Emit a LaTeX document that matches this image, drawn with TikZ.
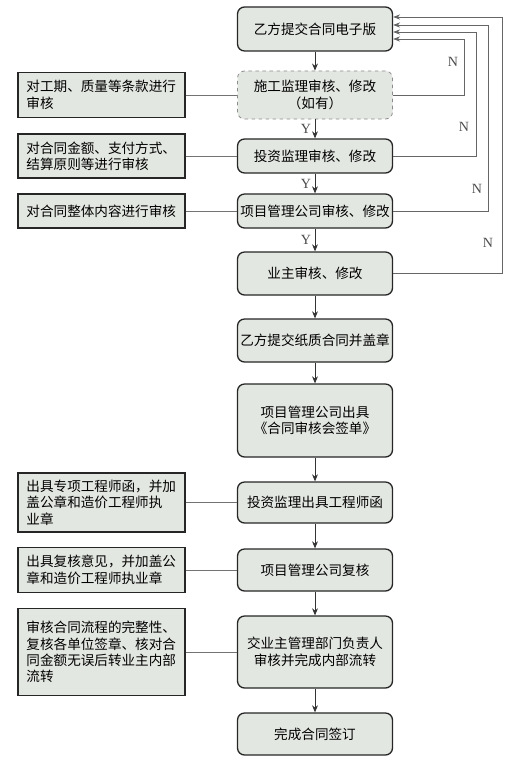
\documentclass[tikz,border=0pt]{standalone}
\usepackage{fontspec}
\setmainfont{Liberation Serif}
\newfontfamily\cjk{Noto Sans CJK SC}
\usepackage{xcolor}
\usetikzlibrary{arrows.meta,positioning,calc}
\definecolor{boxfill}{RGB}{227,231,225}
\tikzset{
  stepbox/.style={
    rectangle, rounded corners=6pt, draw=black!85, fill=boxfill,
    minimum width=4.65cm, minimum height=1.3cm, inner sep=1pt,
    font=\cjk\fontsize{11.6}{14}\selectfont, align=center, line width=1.1pt
  },
  optbox/.style={
    stepbox, draw=black!45, dashed, line width=0.7pt
  },
  notebox/.style={
    rectangle, draw=black!85, fill=boxfill,
    minimum width=5.01cm, text width=4.5cm, inner xsep=0.25cm,
    font=\cjk\fontsize{11.6}{14}\selectfont, align=left, line width=1.1pt
  },
  flow/.style={->, >={Stealth[length=6pt,width=5pt]}, line width=0.7pt, color=black!80},
  link/.style={line width=0.6pt, color=black!55},
  back/.style={->, >={Stealth[length=6pt,width=4.5pt]}, line width=0.6pt, color=black!60},
  yn/.style={font=\fontsize{12}{14}\selectfont, text=black!70, inner sep=1pt},
}
\begin{document}
\begin{tikzpicture}[x=0.03cm, y=-0.03cm]
  \useasboundingbox (0,0) rectangle (516,761);

  % Main column
  \node[stepbox, minimum height=1.32cm] (submit)  at (315,29)    {乙方提交合同电子版};
  \node[optbox,  minimum height=1.44cm] (super)   at (315,95)    {施工监理审核、修改\\（如有）};
  \node[stepbox, minimum height=1.02cm] (invest)  at (315,156)   {投资监理审核、修改};
  \node[stepbox, minimum height=1.02cm] (pmco)    at (315,211)   {项目管理公司审核、修改};
  \node[stepbox, minimum height=1.29cm] (owner)   at (315,273.5) {业主审核、修改};
  \node[stepbox, minimum height=1.29cm] (paper)   at (315,340.5) {乙方提交纸质合同并盖章};
  \node[stepbox, minimum height=2.19cm] (sheet)   at (315,420.5) {项目管理公司出具\\《合同审核会签单》};
  \node[stepbox, minimum height=1.23cm] (letter)  at (315,502.5) {投资监理出具工程师函};
  \node[stepbox, minimum height=1.26cm] (recheck) at (315,570)   {项目管理公司复核};
  \node[stepbox, minimum height=2.16cm] (dept)    at (315,652)   {交业主管理部门负责人\\审核并完成内部流转};
  \node[stepbox, minimum height=1.26cm] (done)    at (315,734)   {完成合同签订};

  % Main flow
  \draw[flow] (submit)  -- (super);
  \draw[flow] (super)   -- node[yn, left=2pt] {Y} (invest);
  \draw[flow] (invest)  -- node[yn, left=2pt] {Y} (pmco);
  \draw[flow] (pmco)    -- node[yn, left=2pt] {Y} (owner);
  \draw[flow] (owner)   -- (paper);
  \draw[flow] (paper)   -- (sheet);
  \draw[flow] (sheet)   -- (letter);
  \draw[flow] (letter)  -- (recheck);
  \draw[flow] (recheck) -- (dept);
  \draw[flow] (dept)    -- (done);

  % Return loops
  \draw[back] (super.east)  -- ++(71,0)  |- ($(submit.east)+(0,10)$);
  \draw[back] (invest.east) -- ++(83,0)  |- ($(submit.east)+(0,3)$);
  \draw[back] (pmco.east)   -- ++(95,0)  |- ($(submit.east)+(0,-4)$);
  \draw[back] (owner.east)  -- ++(109,0) |- ($(submit.east)+(0,-12)$);
  \node[yn] (nsuper)  at (453,62)  {N};
  \node[yn] (ninvest) at (464,127) {N};
  \node[yn] (npmco)   at (477,189) {N};
  \node[yn] (nowner)  at (488,243) {N};

  % Notes
  \node[notebox, minimum height=1.35cm] (tsuper)   at (101.5,95)  {对工期、质量等条款进行\\审核};
  \node[notebox, minimum height=1.32cm] (tinvest)  at (101.5,156) {对合同金额、支付方式、\\结算原则等进行审核};
  \node[notebox, minimum height=1.02cm] (tpmco)    at (101.5,211) {对合同整体内容进行审核};
  \node[notebox, minimum height=1.77cm] (tletter)  at (101.5,502.5) {出具专项工程师函，并加\\盖公章和造价工程师执\\业章};
  \node[notebox, minimum height=1.35cm] (trecheck) at (101.5,570) {出具复核意见，并加盖公\\章和造价工程师执业章};
  \node[notebox, minimum height=2.61cm] (tdept)    at (101.5,652) {审核合同流程的完整性、\\复核各单位签章、核对合\\同金额无误后转业主内部\\流转};

  \draw[link] (tsuper)   -- (super);
  \draw[link] (tinvest)  -- (invest);
  \draw[link] (tpmco)    -- (pmco);
  \draw[link] (tletter)  -- (letter);
  \draw[link] (trecheck) -- (recheck);
  \draw[link] (tdept)    -- (dept);

\end{tikzpicture}
\end{document}
